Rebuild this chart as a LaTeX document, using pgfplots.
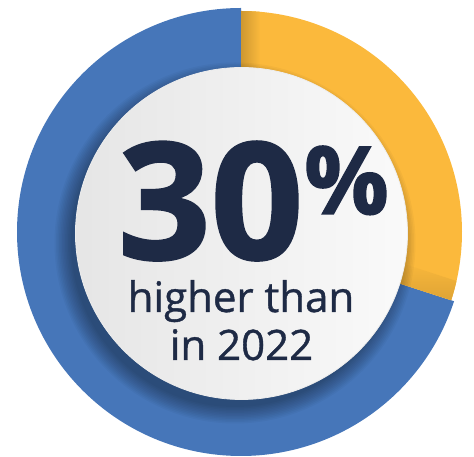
\documentclass[border=0pt]{standalone}
\usepackage{pgfplots}
\pgfplotsset{compat=1.18}
\usepackage{pgfplotstable}
\usepackage{fontspec}
\setmainfont{Open Sans}
\newfontfamily\heavy[FakeBold=1.6]{Open Sans Bold}
\newfontfamily\semib[FakeBold=0.9]{Open Sans}
\definecolor{cblue}{HTML}{4676B9}
\definecolor{cyellow}{HTML}{FBB93C}
\definecolor{navy}{HTML}{1E2A45}
\pgfplotstableread{
label value
yellow 30
blue 70
}\datatable
\begin{document}
\begin{tikzpicture}
\pgfplotstablegetelem{0}{value}\of\datatable \let\vy\pgfplotsretval
\pgfmathsetmacro{\endang}{90-3.6*\vy}
\begin{axis}[width=474pt,height=457pt,scale only axis,xmin=0,xmax=474,ymin=0,ymax=457,hide axis,clip=false]
\path (axis cs:0,0) rectangle (axis cs:474,457);
% blue wedge (70%)
\fill[cblue] (axis cs:241,225) -- ++(90:224) arc[start angle=90,end angle=360+\endang,radius=224pt] -- cycle;
% yellow wedge (30%)
\begin{scope}
\clip (axis cs:241,225) -- ++(90:221) arc[start angle=90,end angle=\endang,radius=221pt] -- cycle;
\fill[cyellow] (axis cs:0,0) rectangle (axis cs:474,457);
\shade[left color=cyellow!82!black,right color=cyellow] (axis cs:241,225) rectangle (axis cs:260,450);
\begin{scope}[shift={(axis cs:241,225)},rotate=\endang]
\shade[bottom color=cyellow!88!black,top color=cyellow] (150,0) rectangle (230,20);
\end{scope}
\end{scope}
% soft shadow of inner circle
\pgfplotsinvokeforeach{0,...,11}{
  \fill[black,opacity=0.03] (axis cs:235,214) circle[radius={164pt+1.5pt*#1}];
}
% inner circle
\shade[left color=black!10,right color=black!2] (axis cs:241.5,223.5) circle[radius=166pt];
\draw[black!7,line width=0.8pt] (axis cs:241.5,223.5) circle[radius=166pt];
% text
\node[anchor=base west,text=navy,inner sep=0pt] at (axis cs:118,198)
  {\fontsize{162}{162}\selectfont\heavy 30\kern1pt\raisebox{45pt}{\fontsize{94}{94}\selectfont\%}};
\node[anchor=base,text=navy,font=\fontsize{42}{42}\selectfont\semib,inner sep=0pt] at (axis cs:241,145) {higher than};
\node[anchor=base,text=navy,font=\fontsize{42}{42}\selectfont\semib,inner sep=0pt] at (axis cs:241.5,97) {in 2022};
\end{axis}
\end{tikzpicture}
\end{document}
